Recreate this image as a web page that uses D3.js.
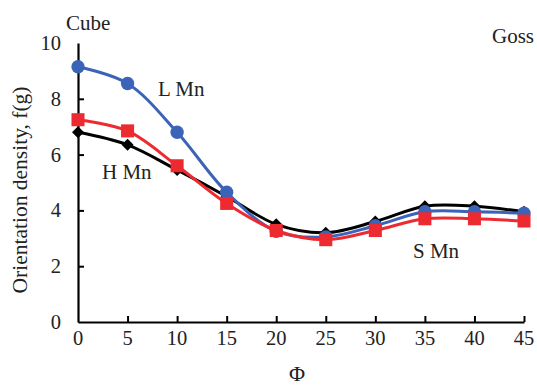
<!DOCTYPE html>
<html><head><meta charset="utf-8">
<script src="https://cdn.jsdelivr.net/npm/d3@7"></script>
<style>
body{margin:0;background:#fff;}
svg text{font-family:"Liberation Serif","Times New Roman",serif;fill:#222;}
</style></head>
<body><svg id="c" width="537" height="388"></svg>
<script>
const phi = [0,5,10,15,20,25,30,35,40,45];
const lMn = [9.15,8.55,6.8,4.65,3.25,3.05,3.45,3.95,3.95,3.9];
const hMn = [6.8,6.35,5.45,4.5,3.5,3.2,3.6,4.15,4.15,3.95];
const sMn = [7.25,6.85,5.6,4.25,3.28,2.95,3.28,3.7,3.7,3.62];
const xTicks = [0,5,10,15,20,25,30,35,40,45];
const yTicks = [0,2,4,6,8,10];

const svg = d3.select("#c");
const x = d3.scaleLinear().domain([0,45]).range([78,524]);
const y = d3.scaleLinear().domain([0,10]).range([322,43]);

const gx = svg.append("g").attr("transform","translate(0,322)")
  .call(d3.axisBottom(x).tickValues(xTicks.slice(1)).tickSizeInner(-6).tickSizeOuter(0).tickPadding(5).tickFormat(d3.format("d")));
gx.selectAll("text").remove();
svg.append("g").selectAll("text").data(xTicks).join("text")
  .attr("x",d=>x(d)).attr("y",345).attr("text-anchor","middle")
  .style("font-size","20.5px").text(d=>d);

const gy = svg.append("g").attr("transform","translate(78,0)")
  .call(d3.axisLeft(y).tickValues(yTicks).tickSizeInner(-6).tickSizeOuter(0).tickPadding(17).tickFormat(d3.format("d")));
gy.selectAll("text").style("font-size","20.5px");
[gx,gy].forEach(g=>{
  g.select(".domain").attr("stroke","#000").attr("stroke-width",2.2);
  g.selectAll(".tick line").attr("stroke","#000").attr("stroke-width",2);
});
gy.selectAll(".tick").filter(d=>d===0||d===10).select("line").remove();

const line = d3.line().x((d,i)=>x(phi[i])).y(d=>y(d)).curve(d3.curveCatmullRom.alpha(0.5));

function series(vals,color,shape){
  const g = svg.append("g");
  g.append("path").attr("d",line(vals)).attr("fill","none").attr("stroke",color).attr("stroke-width",3);
  const sym = d3.symbol().type(shape.type).size(shape.size);
  g.selectAll("path.m").data(vals).join("path").attr("class","m")
    .attr("transform",(d,i)=>`translate(${x(phi[i])},${y(d)})${shape.rot?" rotate(45)":""}`)
    .attr("d",sym).attr("fill",color);
}
series(hMn,"#000000",{type:d3.symbolSquare,size:72,rot:true});
series(lMn,"#3b64b8",{type:d3.symbolCircle,size:140});
series(sMn,"#ee2a31",{type:d3.symbolSquare,size:170});

const labels = [
  {t:"Cube",x:66,y:30,s:21},
  {t:"Goss",x:492,y:43,s:21},
  {t:"L Mn",x:158,y:96,s:21},
  {t:"H Mn",x:102,y:179,s:21},
  {t:"S Mn",x:413,y:258,s:21}
];
svg.append("g").selectAll("text").data(labels).join("text")
  .attr("x",d=>d.x).attr("y",d=>d.y).style("font-size",d=>d.s+"px").text(d=>d.t);

svg.append("text").attr("x",297).attr("y",381).attr("text-anchor","middle")
  .style("font-size","22px").text("Φ");
svg.append("text").attr("transform","translate(27,190) rotate(-90)").attr("text-anchor","middle")
  .style("font-size","21.5px").text("Orientation density, f(g)");
</script></body></html>
